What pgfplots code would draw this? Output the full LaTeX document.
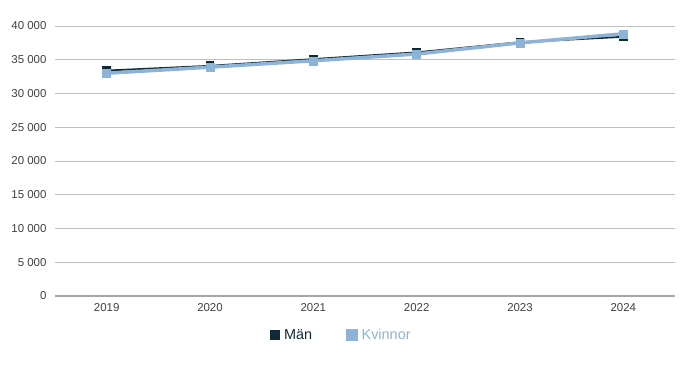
\documentclass[border=0pt]{standalone}
\usepackage{pgfplots}
\pgfplotsset{compat=1.18}
\usepackage{fontspec}
\setmainfont{Liberation Sans}
\definecolor{man}{HTML}{0F2A36}
\definecolor{kvi}{HTML}{8DB3D6}
\definecolor{tick}{HTML}{404040}
\definecolor{grid}{HTML}{E2E2E2}
\definecolor{axl}{HTML}{A6A6A6}
\begin{document}
\begin{tikzpicture}
\useasboundingbox (0,0) rectangle (685bp,365bp);
\begin{axis}[
  at={(55bp,69bp)}, anchor=south west,
  scale only axis, width=620bp, height=270bp,
  xmin=-0.5, xmax=5.5, ymin=0, ymax=40000,
  xtick={0,1,2,3,4,5},
  xticklabels={2019,2020,2021,2022,2023,2024},
  ytick={0,5000,10000,15000,20000,25000,30000,35000,40000},
  /pgf/number format/assume math mode=true,
  /pgf/number format/1000 sep={\ },
  scaled y ticks=false,
  xmajorgrids=false, ymajorgrids=true, grid style={grid, line width=1pt},
  axis x line*=bottom, axis y line*=left,
  y axis line style={draw=none},
  x axis line style={axl, line width=1.2pt, -},
  major tick length=0pt,
  tick label style={font=\fontsize{11.5}{13}\selectfont, text=tick},
  xticklabel style={yshift=-4bp},
  yticklabel style={xshift=-5bp},
  clip=false,
  legend style={draw=none, fill=none, at={(axis description cs:0.462,-0.145)}, anchor=center,
    legend columns=-1, font=\fontsize{14.5}{16}\selectfont,
    /tikz/every odd column/.append style={column sep=2bp},
    /tikz/every even column/.append style={column sep=32bp}},
  legend image code/.code={\fill[#1] (0bp,-4bp) rectangle (8bp,4bp);},
]
\addplot[man, line width=1.8pt, mark=square*, mark size=3.5bp, mark options={fill=man, draw=man}]
  coordinates {(0,33400) (1,34100) (2,35100) (3,36100) (4,37600) (5,38400)};
\addlegendentry{\textcolor{man}{Män}}
\addplot[kvi, line width=3.5pt, mark=square*, mark size=4bp, mark options={fill=kvi, draw=kvi, line width=0.5pt}]
  coordinates {(0,33000) (1,33900) (2,34850) (3,35850) (4,37500) (5,38850)};
\addlegendentry{\textcolor{kvi}{Kvinnor}}
\end{axis}
\end{tikzpicture}
\end{document}
